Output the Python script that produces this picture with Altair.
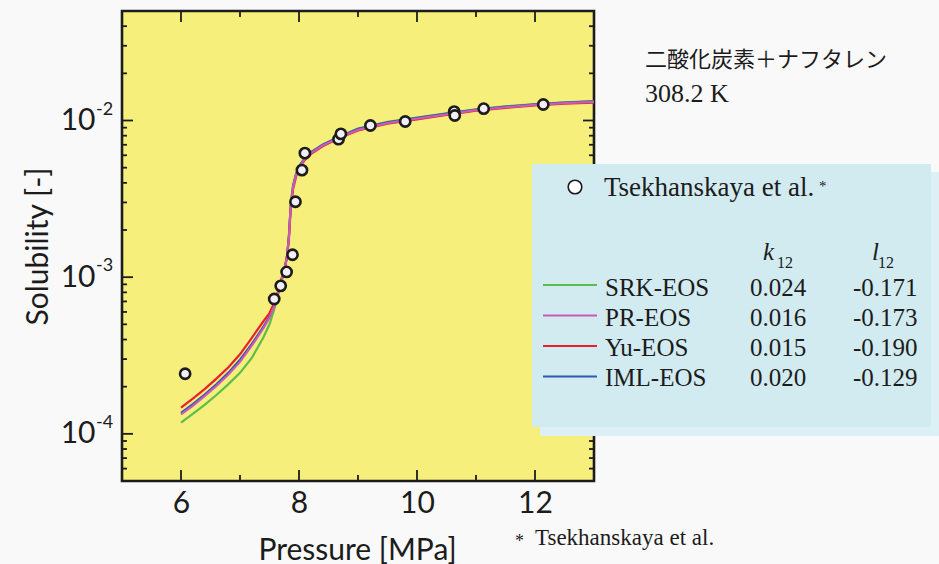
import altair as alt
import pandas as pd

# Measured solubility of naphthalene in CO2 (Tsekhanskaya et al.), 308.2 K
pressure_pts = [6.07, 7.58, 7.69, 7.79, 7.89, 7.94, 8.05, 8.10, 8.67, 8.71,
                9.21, 9.80, 10.63, 10.64, 11.13, 12.14]
solubility_pts = [2.42e-4, 7.26e-4, 8.8e-4, 1.08e-3, 1.39e-3, 3.03e-3, 4.82e-3,
                  6.19e-3, 7.6e-3, 8.22e-3, 9.29e-3, 9.85e-3, 1.14e-2, 1.076e-2,
                  1.19e-2, 1.265e-2]

# Correlated curves for each equation of state
curve_pressure = [6.0, 6.2, 6.4, 6.6, 6.8, 7.0, 7.2, 7.4, 7.5, 7.6, 7.7, 7.75,
                  7.8, 7.83, 7.86, 7.9, 7.95, 8.0, 8.1, 8.2, 8.4, 8.6, 8.8, 9.0,
                  9.5, 10.0, 10.5, 11.0, 11.5, 12.0, 12.5, 13.0]
srk_curve = [1.18e-4, 1.34e-4, 1.53e-4, 1.77e-4, 2.07e-4, 2.45e-4, 3.05e-4, 4.15e-4,
             5.0e-4, 6.6e-4, 9.3e-4, 1.08e-3, 1.38e-3, 1.85e-3, 2.9e-3, 3.85e-3,
             4.55e-3, 5.1e-3, 5.75e-3, 6.25e-3, 7.0e-3, 7.65e-3, 8.25e-3, 8.9e-3,
             9.8e-3, 1.045e-2, 1.11e-2, 1.18e-2, 1.23e-2, 1.275e-2, 1.305e-2, 1.33e-2]
pr_curve = [1.33e-4, 1.51e-4, 1.74e-4, 2.02e-4, 2.38e-4, 2.88e-4, 3.65e-4, 4.75e-4,
            5.5e-4, 6.8e-4, 9.4e-4, 1.09e-3, 1.38e-3, 1.82e-3, 2.85e-3, 3.78e-3,
            4.48e-3, 5.02e-3, 5.68e-3, 6.17e-3, 6.92e-3, 7.52e-3, 8.1e-3, 8.72e-3,
            9.62e-3, 1.028e-2, 1.095e-2, 1.165e-2, 1.215e-2, 1.26e-2, 1.29e-2, 1.315e-2]
yu_curve = [1.47e-4, 1.68e-4, 1.93e-4, 2.25e-4, 2.65e-4, 3.22e-4, 4.1e-4, 5.25e-4,
            5.9e-4, 7.1e-4, 9.7e-4, 1.1e-3, 1.37e-3, 1.78e-3, 2.75e-3, 3.65e-3,
            4.38e-3, 4.95e-3, 5.6e-3, 6.1e-3, 6.85e-3, 7.45e-3, 8.05e-3, 8.65e-3,
            9.55e-3, 1.015e-2, 1.085e-2, 1.155e-2, 1.205e-2, 1.25e-2, 1.28e-2, 1.30e-2]
iml_curve = [1.36e-4, 1.55e-4, 1.78e-4, 2.07e-4, 2.45e-4, 2.97e-4, 3.75e-4, 4.85e-4,
             5.6e-4, 6.9e-4, 9.5e-4, 1.1e-3, 1.39e-3, 1.85e-3, 2.9e-3, 3.85e-3,
             4.55e-3, 5.1e-3, 5.75e-3, 6.25e-3, 7.0e-3, 7.6e-3, 8.2e-3, 8.85e-3,
             9.75e-3, 1.04e-2, 1.105e-2, 1.175e-2, 1.225e-2, 1.27e-2, 1.30e-2, 1.325e-2]

model_names = ["SRK-EOS", "PR-EOS", "Yu-EOS", "IML-EOS"]
k12_values = ["0.024", "0.016", "0.015", "0.020"]
l12_values = ["-0.171", "-0.173", "-0.190", "-0.129"]
model_colors = ["#5cbd4a", "#c95bb6", "#ec1f2e", "#2b5cae"]

# Tick positions
x_major = [6, 8, 10, 12]
x_minor = [7, 9, 11]
y_major = [1e-4, 1e-3, 1e-2]
y_exponents = ["-4", "-3", "-2"]
y_minor = [6e-5, 7e-5, 8e-5, 9e-5,
           2e-4, 3e-4, 4e-4, 5e-4, 6e-4, 7e-4, 8e-4, 9e-4,
           2e-3, 3e-3, 4e-3, 5e-3, 6e-3, 7e-3, 8e-3, 9e-3,
           2e-2, 3e-2, 4e-2]

W, H = 472, 470
SANS = "Lato"
SERIF = "Liberation Serif"
INK = "#1c1c1c"

x_scale = alt.Scale(domain=[5, 13], nice=False, zero=False)
y_scale = alt.Scale(type="log", domain=[5e-5, 5e-2], nice=False)

x_axis = alt.Axis(values=x_major, title="Pressure [MPa]", ticks=False, domain=False,
                  grid=False, labelFlush=False, labelOverlap=False,
                  labelBaseline="middle", labelPadding=22, labelFont=SANS,
                  labelFontSize=30, labelColor=INK, titleFont=SANS, titleFontSize=30,
                  titleFontWeight="normal", titleColor=INK, titleX=235, titleY=78,
                  titleBaseline="alphabetic", titleAlign="center")
y_axis = alt.Axis(values=y_major, labelExpr="'10'", title="Solubility [-]", ticks=False,
                  domain=False, grid=False, labelOverlap=False, labelFlush=False,
                  labelBaseline="middle", labelPadding=27, labelFont=SANS,
                  labelFontSize=30, labelColor=INK, titleFont=SANS, titleFontSize=30,
                  titleFontWeight="normal", titleColor=INK, titleX=-75, titleY=235,
                  titleAngle=-90, titleBaseline="alphabetic", titleAlign="center")


def xe(field="P"):
    return alt.X(f"{field}:Q", scale=x_scale, axis=x_axis)


def ye(field="S"):
    return alt.Y(f"{field}:Q", scale=y_scale, axis=y_axis)


layers = []

# Inward ticks on all four sides of the frame
xmaj = pd.DataFrame({"P": x_major})
xmin = pd.DataFrame({"P": x_minor})
ymaj = pd.DataFrame({"S": y_major})
ymin = pd.DataFrame({"S": y_minor})
tick = dict(color=INK, strokeWidth=1.8)
for df, length in ((xmaj, 11), (xmin, 6)):
    layers.append(alt.Chart(df).mark_rule(**tick).encode(
        x=xe(), y=alt.value(H), y2=alt.value(H - length)))
    layers.append(alt.Chart(df).mark_rule(**tick).encode(
        x=xe(), y=alt.value(0), y2=alt.value(length)))
for df, length in ((ymaj, 11), (ymin, 5)):
    layers.append(alt.Chart(df).mark_rule(**tick).encode(
        y=ye(), x=alt.value(0), x2=alt.value(length)))
    layers.append(alt.Chart(df).mark_rule(**tick).encode(
        y=ye(), x=alt.value(W), x2=alt.value(W - length)))

# Exponents of the y tick labels
exp_df = pd.DataFrame({"S": y_major, "e": y_exponents})
layers.append(alt.Chart(exp_df).mark_text(
    font=SANS, fontSize=18, color=INK, align="left", baseline="middle", dy=-11
).encode(y=ye(), x=alt.value(-26), text="e:N"))

# Model curves (pink drawn last)
curves = {"SRK-EOS": srk_curve, "IML-EOS": iml_curve, "Yu-EOS": yu_curve, "PR-EOS": pr_curve}
for name, vals in curves.items():
    col = model_colors[model_names.index(name)]
    df = pd.DataFrame({"P": curve_pressure, "S": vals})
    layers.append(alt.Chart(df).mark_line(color=col, strokeWidth=2.2).encode(
        x=xe(), y=ye()))

# Experimental points
pts = pd.DataFrame({"P": pressure_pts, "S": solubility_pts})
layers.append(alt.Chart(pts).mark_point(
    shape="circle", filled=True, size=105, fill="#f3eef8", stroke=INK,
    strokeWidth=2.6, opacity=1).encode(x=xe(), y=ye()))

# Legend panel with drop shadow
one = pd.DataFrame({"k": [0]})
layers.append(alt.Chart(one).mark_rect(color="#ddf0f5").encode(
    x=alt.value(418), x2=alt.value(817), y=alt.value(161), y2=alt.value(425)))
layers.append(alt.Chart(one).mark_rect(color="#d2ebf1").encode(
    x=alt.value(410), x2=alt.value(809), y=alt.value(153), y2=alt.value(416)))
layers.append(alt.Chart(one).mark_point(
    shape="circle", filled=True, size=185, fill="white", stroke=INK, strokeWidth=1.6,
    opacity=1).encode(x=alt.value(453), y=alt.value(176)))


def label(text, x, y, size=25, font=SERIF, style="normal", align="left", color=INK):
    return alt.Chart(pd.DataFrame({"t": [text]})).mark_text(
        font=font, fontSize=size, fontStyle=style, align=align, baseline="alphabetic",
        color=color).encode(text="t:N", x=alt.value(x), y=alt.value(y))


layers.append(label("Tsekhanskaya et al.", 482, 185, size=27))
layers.append(label("*", 697, 180, size=15))
layers.append(label("k", 641, 249, style="italic"))
layers.append(label("12", 655, 257, size=16))
layers.append(label("l", 750, 249, style="italic"))
layers.append(label("12", 756, 257, size=16))

rows = pd.DataFrame({"name": model_names, "k12": k12_values, "l12": l12_values,
                     "color": model_colors, "row": list(range(4))})
rows_chart = alt.Chart(rows).transform_calculate(
    ty="285 + datum.row * 29.9", ly="274 + datum.row * 30.5")
layers.append(rows_chart.mark_rule(strokeWidth=2.2).encode(
    x=alt.value(421), x2=alt.value(475), y=alt.Y("ly:Q", scale=None),
    color=alt.Color("color:N", scale=None)))
for field, xpos in (("name", 483), ("k12", 628), ("l12", 731)):
    layers.append(rows_chart.mark_text(
        font=SERIF, fontSize=25, align="left", baseline="alphabetic", color=INK
    ).encode(text=f"{field}:N", x=alt.value(xpos), y=alt.Y("ty:Q", scale=None)))

# System description and footnote
layers.append(label("二酸化炭素＋ナフタレン", 523, 56, size=22, font="Noto Sans CJK JP"))
layers.append(label("308.2 K", 523, 91, size=26))
layers.append(label("*", 393, 536, size=18))
layers.append(label("Tsekhanskaya et al.", 413, 534, size=23))

chart = alt.layer(*layers).properties(
    width=W, height=H,
    autosize=alt.AutoSizeParams(type="none"),
    padding={"left": 122, "top": 11, "right": 345, "bottom": 83},
    background="#f9f9f9",
).configure_view(fill="#f7ef7b", stroke=INK, strokeWidth=2.6)

chart.save("out.html", embed_options={"renderer": "svg", "actions": False})
